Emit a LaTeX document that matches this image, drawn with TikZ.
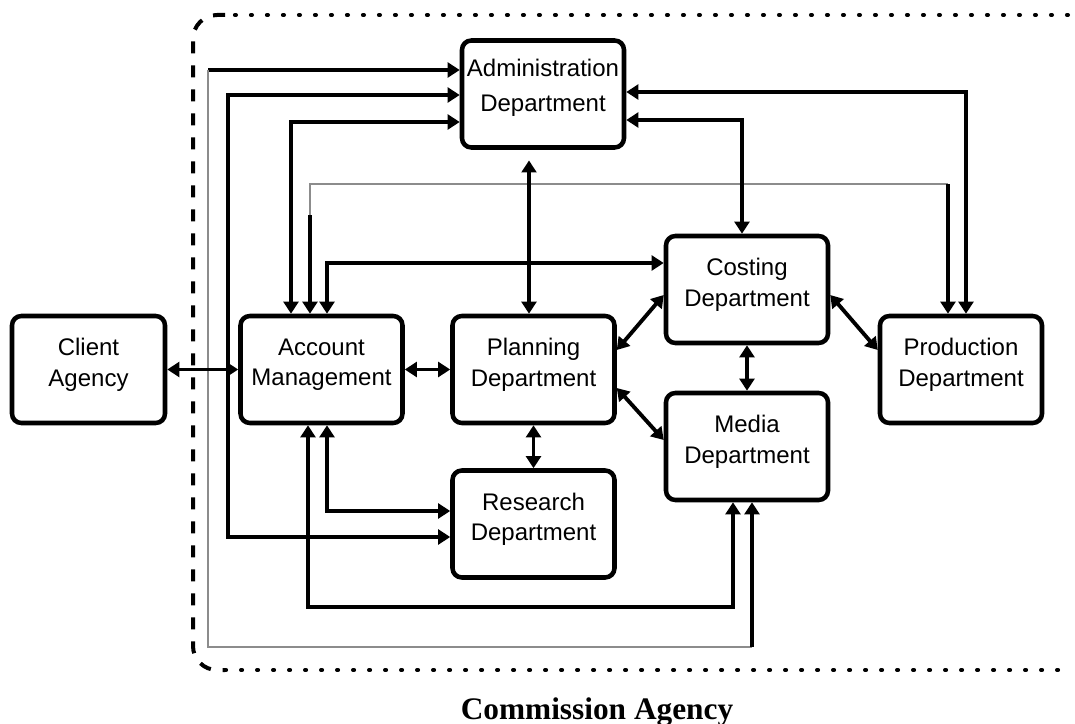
\documentclass[tikz,border=0pt]{standalone}
\usepackage{fontspec}
\setmainfont{Liberation Sans}
\newfontfamily\capfont{Liberation Serif}
\usetikzlibrary{arrows.meta}
\begin{document}
\begin{tikzpicture}[x=0.75pt,y=-0.75pt,
  box/.style={draw, line width=3.4pt, rounded corners=7pt, minimum width=121.5pt,
    minimum height=80.25pt, align=center, font=\fontsize{18}{23}\selectfont,
    text depth=11pt, inner sep=0pt},
  conn/.style={line width=2.9pt},
  faint/.style={line width=0.8pt, black!45},
  >={Triangle[length=9pt,width=11pt]},
  dots/.style={line width=3pt, line cap=round, dash pattern=on 0.8pt off 11.2pt},
  dashes/.style={line width=3pt, dash pattern=on 9pt off 9pt}]
\useasboundingbox (0,0) rectangle (1075,724);

% agency boundary
\draw[dots] (1068,15) -- (225,15);
\draw[dashes, rounded corners=18pt] (225,15) -- (193,15) -- (193,670) -- (225,670);
\draw[dots] (225,670) -- (1068,670);

% boxes
\node[box, font=\fontsize{18}{26}\selectfont, text depth=13pt] (admin) at (543,94) {Administration\\Department};
\node[box, minimum width=114.75pt] (client) at (88.5,369.5) {Client\\Agency};
\node[box] (account) at (321.5,369.5) {Account\\Management};
\node[box] (planning) at (533.5,369.5) {Planning\\Department};
\node[box] (costing) at (747,289.5) {Costing\\Department};
\node[box] (production) at (961,369.5) {Production\\Department};
\node[box] (media) at (747,446.5) {Media\\Department};
\node[box] (research) at (533.5,524) {Research\\Department};
\node[font=\capfont\bfseries\fontsize{23.5}{25}\selectfont, anchor=base, inner sep=0pt] (caption) at (597,719) {Commission Agency};

% helper coordinates
\coordinate (p1) at (208,70);
\coordinate (p2) at (208,647);
\coordinate (p3) at (752,647);
\coordinate (q1) at (228,95);
\coordinate (q2) at (228,537);
\coordinate (r1) at (291,122);
\coordinate (s1) at (310,215);
\coordinate (s2) at (310,184);
\coordinate (s3) at (948,184);
\coordinate (t1) at (966,92);
\coordinate (u1) at (742,120);
\coordinate (v1) at (529,150);
\coordinate (w1) at (327,263);
\coordinate (d1) at (0,350);
\coordinate (d2) at (0,295);
\coordinate (d3) at (0,388);
\coordinate (d4) at (0,440);
\coordinate (x1) at (308,607);
\coordinate (x2) at (733,607);
\coordinate (z1) at (327,511);

% connectors
\draw[conn,->] (p1) -- (admin.west |- p1);
\draw[faint] (p1) -- (p2) -- (p3);
\draw[conn,->] (p3) -- (media.south -| p3);

\draw[conn,<->] (admin.west |- q1) -- (q1) -- (q2) -- (research.west |- q2);
\draw[conn,<->] (admin.west |- r1) -- (r1) -- (account.north -| r1);

\draw[conn,->] (s1) -- (account.north -| s1);
\draw[faint] (s1) -- (s2) -- (s3);
\draw[conn,->] (s3) -- (production.north -| s3);

\draw[conn,<->] (admin.east |- t1) -- (t1) -- (production.north -| t1);
\draw[conn,<->] (admin.east |- u1) -- (u1) -- (costing.north -| u1);
\draw[conn,<->, shorten <=8pt] (admin.south -| v1) -- (planning.north -| v1);
\draw[conn,<->] (account.north -| w1) -- (w1) -- (costing.west |- w1);

\draw[conn,<->] (client.east) -- (account.west);
\draw[conn,<->] (account.east) -- (planning.west);
\draw[conn,<->] (planning.east |- d1) -- (costing.west |- d2);
\draw[conn,<->] (planning.east |- d3) -- (media.west |- d4);
\draw[conn,<->] (costing.east |- d2) -- (production.west |- d1);
\draw[conn,<->] (costing.south) -- (media.north);
\draw[conn,<->] (planning.south) -- (research.north);

\draw[conn,<->] (account.south -| x1) -- (x1) -- (x2) -- (media.south -| x2);
\draw[conn,<->] (account.south -| z1) -- (z1) -- (research.west |- z1);
\end{tikzpicture}
\end{document}
